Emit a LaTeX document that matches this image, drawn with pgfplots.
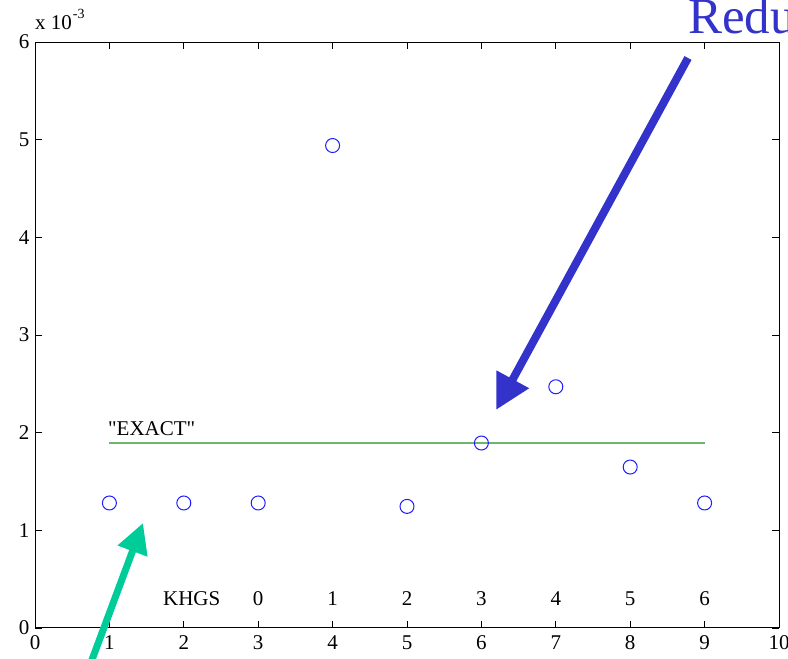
\documentclass[border=0pt]{standalone}
\usepackage{fontspec}
\setmainfont{Liberation Serif}
\newfontfamily\rawfont{Liberation Serif}[Ligatures=TeXOff]
\usepackage{pgfplots}
\pgfplotsset{compat=1.18}
\usetikzlibrary{arrows.meta}
\definecolor{pblue}{RGB}{51,51,204}
\definecolor{pteal}{RGB}{0,204,153}
\definecolor{pgreen}{RGB}{110,180,110}
\definecolor{mblue}{RGB}{30,30,255}
\tikzset{lbl/.style={anchor=base, inner sep=0pt, font=\fontsize{21}{24}\selectfont}}
\begin{document}
\begin{tikzpicture}[x=1pt,y=1pt]
\useasboundingbox (0,0) rectangle (788,659);
\clip (0,0) rectangle (788,659);
\begin{axis}[
  at={(35pt,31pt)}, anchor=south west,
  scale only axis, width=744pt, height=586pt,
  xmin=0, xmax=10, ymin=0, ymax=6,
  xtick={0,1,...,10}, ytick={0,1,...,6},
  tick align=inside, major tick length=7pt,
  axis line style={line width=1pt},
  tick style={black, line width=0.8pt},
  /pgf/number format/assume math mode=true,
  ticklabel style={font=\fontsize{21}{24}\selectfont},
  xticklabel style={yshift=-4pt},
  yticklabel style={xshift=-2pt},
  clip=false,
]
\addplot[pgreen, line width=1.5pt] coordinates {(1,1.894) (9,1.894)};
\addplot[only marks, mark=o, mark size=7pt, mblue, mark options={line width=1pt}] coordinates {
  (1,1.28) (2,1.28) (3,1.28) (4,4.94) (5,1.245) (6,1.894) (7,2.47) (8,1.648) (9,1.28)};
\node[lbl, anchor=base west, font=\fontsize{21}{24}\rawfont] at (axis cs:0.98,1.976) {"EXACT"};
\node[lbl, anchor=base west] at (axis cs:1.72,0.235) {KHGS};
\node[lbl] at (axis cs:3,0.235) {0};
\node[lbl] at (axis cs:4,0.235) {1};
\node[lbl] at (axis cs:5,0.235) {2};
\node[lbl] at (axis cs:6,0.235) {3};
\node[lbl] at (axis cs:7,0.235) {4};
\node[lbl] at (axis cs:8,0.235) {5};
\node[lbl] at (axis cs:9,0.235) {6};
\end{axis}
\node[anchor=base west, inner sep=0pt, font=\fontsize{21}{24}\selectfont] at (35,629) {x 10\kern1pt\raisebox{0.55em}{\fontsize{14}{15}\selectfont -3}};
\node[anchor=base west, inner sep=0pt, font=\fontsize{51}{56}\selectfont, text=pblue] at (688,625) {Redu};
\draw[pblue, line width=8pt, -{Triangle[length=35pt,width=35pt]}] (688,601) -- (496,249);
\draw[pteal, line width=7pt, -{Triangle[length=30pt,width=30pt]}] (77,-41) -- (143,136);
\end{tikzpicture}
\end{document}
